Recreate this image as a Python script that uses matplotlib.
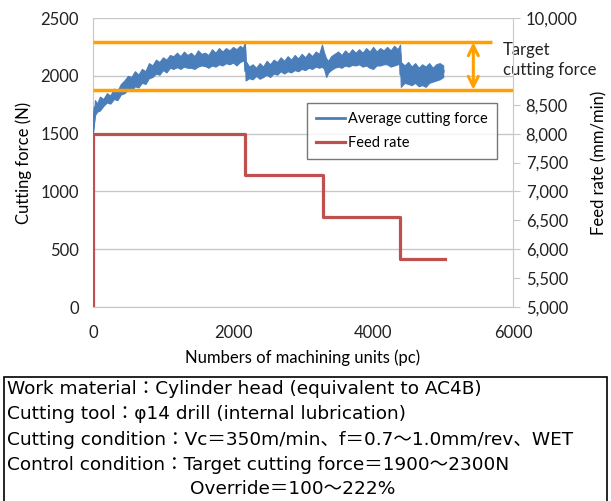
import matplotlib.pyplot as plt
from matplotlib.patches import Rectangle
from matplotlib.ticker import FuncFormatter

# machining units (pc) and cutting force envelope (N)
units = [0, 30, 60, 100, 150, 200, 250, 300, 350, 400, 450, 500, 550, 600, 650,
         700, 750, 800, 850, 900, 950, 1000, 1050, 1100, 1150, 1200, 1250, 1300,
         1350, 1400, 1450, 1500, 1550, 1600, 1650, 1700, 1750, 1800, 1850, 1900,
         1950, 2000, 2050, 2100, 2140, 2170, 2180, 2230, 2280, 2330, 2380, 2430,
         2480, 2530, 2580, 2630, 2680, 2730, 2780, 2830, 2880, 2930, 2980, 3030,
         3080, 3130, 3180, 3230, 3270, 3300, 3330, 3360, 3400, 3450, 3500, 3550,
         3600, 3650, 3700, 3750, 3800, 3850, 3900, 3950, 4000, 4050, 4100, 4150,
         4200, 4250, 4300, 4350, 4385, 4395, 4450, 4500, 4550, 4600, 4650, 4700,
         4750, 4800, 4850, 4900, 4950, 5000]
force_top = [1560, 1790, 1760, 1820, 1800, 1850, 1830, 1890, 1870, 1930, 1960,
             2000, 1990, 2040, 2010, 2060, 2040, 2110, 2090, 2140, 2120, 2160,
             2140, 2180, 2170, 2200, 2170, 2210, 2180, 2200, 2170, 2220, 2190,
             2200, 2180, 2230, 2200, 2240, 2210, 2240, 2220, 2250, 2230, 2260,
             2240, 2290, 2130, 2080, 2100, 2070, 2110, 2080, 2130, 2100, 2140,
             2120, 2160, 2130, 2170, 2140, 2180, 2150, 2190, 2160, 2200, 2170,
             2210, 2190, 2270, 2200, 2150, 2130, 2170, 2190, 2210, 2180, 2220,
             2190, 2230, 2200, 2230, 2200, 2240, 2210, 2250, 2210, 2240, 2220,
             2250, 2220, 2260, 2230, 2270, 2120, 2090, 2120, 2080, 2110, 2070,
             2100, 2080, 2110, 2070, 2100, 2110, 2090]
force_low = [1500, 1660, 1690, 1700, 1740, 1770, 1760, 1800, 1790, 1840, 1850,
             1880, 1870, 1910, 1900, 1940, 1930, 1980, 1990, 2020, 2010, 2050,
             2030, 2070, 2060, 2075, 2060, 2080, 2070, 2070, 2060, 2080, 2090,
             2085, 2070, 2090, 2080, 2100, 2090, 2110, 2100, 2115, 2090, 2120,
             2130, 2150, 1960, 1980, 1970, 2000, 1975, 1990, 2010, 1990, 2020,
             2010, 2040, 2020, 2040, 2030, 2050, 2040, 2060, 2050, 2070, 2060,
             2080, 2070, 2080, 2060, 1990, 2030, 2050, 2070, 2080, 2070, 2090,
             2080, 2095, 2090, 2100, 2080, 2090, 2070, 2060, 2090, 2090, 2100,
             2100, 2080, 2090, 2100, 2110, 1905, 1940, 1930, 1920, 1940, 1910,
             1920, 1905, 1940, 1950, 1960, 1970, 1990]

# feed rate (mm/min)
feed_units = [0, 0, 2176, 2176, 3290, 3290, 4390, 4390, 5020]
feed_rate = [5000, 8000, 8000, 7280, 7280, 6560, 6560, 5830, 5830]

target_upper = 2290
target_lower = 1880
target_upper_end = 5700
target_lower_end = 6000
arrow_x = 5430

blue = '#4a7ebb'
red = '#c0504d'
orange = '#ffa000'

plt.rcParams['font.family'] = ['Lato', 'DejaVu Sans']

fig = plt.figure(figsize=(6.11, 5.01), dpi=100)
ax = fig.add_axes([0.152, 0.387, 0.688, 0.577])

force_mid = [(a + b) / 2 for a, b in zip(force_top, force_low)]
ax.fill_between(units, force_low, force_top, color=blue, lw=0.8, zorder=3)
line_force, = ax.plot(units, force_mid, color=blue, lw=2, zorder=3,
                      label='Average cutting force')

ax.plot([0, target_upper_end], [target_upper, target_upper], color=orange, lw=2.5,
        zorder=5, clip_on=False, solid_capstyle='butt')
ax.plot([0, target_lower_end], [target_lower, target_lower], color=orange, lw=2.5,
        zorder=5, clip_on=False, solid_capstyle='butt')
ax.annotate('', xy=(arrow_x, target_upper), xytext=(arrow_x, target_lower),
            arrowprops=dict(arrowstyle='<->', color=orange, lw=2.2,
                            mutation_scale=18, shrinkA=0, shrinkB=0), zorder=6)
ax.text(0.976, 0.855, 'Target\ncutting force', transform=ax.transAxes,
        fontsize=12, ha='left', va='center', linespacing=1.25, color='#222222')

ax.set_xlim(0, 6000)
ax.set_ylim(0, 2500)
ax.set_xticks([0, 2000, 4000, 6000])
ax.set_yticks(range(0, 2501, 500))
ax.grid(axis='y', color='#c8c8c8', lw=1)
ax.set_axisbelow(True)
for s in ['top', 'right']:
    ax.spines[s].set_visible(False)
ax.spines['left'].set_color('#c8c8c8')
ax.spines['bottom'].set_color('#c8c8c8')
ax.tick_params(axis='y', length=0, labelsize=12, pad=10, colors='#222222')
ax.tick_params(axis='x', length=0, labelsize=12, pad=13, colors='#222222')
ax.set_xlabel('Numbers of machining units (pc)', fontsize=12, labelpad=6)
ax.set_ylabel('Cutting force (N)', fontsize=12, labelpad=6)

ax2 = ax.twinx()
line_feed, = ax2.plot(feed_units, feed_rate, color=red, lw=2.3, label='Feed rate')
ax2.set_ylim(5000, 10000)
ax2.set_yticks([5000, 5500, 6000, 6500, 7000, 7500, 8000, 8500, 10000])
ax2.yaxis.set_major_formatter(FuncFormatter(lambda v, p: f'{int(v):,}'))
for s in ['top', 'left', 'bottom']:
    ax2.spines[s].set_visible(False)
ax2.spines['right'].set_color('#c8c8c8')
ax2.tick_params(axis='y', length=5, color='#c8c8c8', labelsize=12, pad=4,
                labelcolor='#222222')
ax2.set_ylabel('Feed rate (mm/min)', fontsize=12, labelpad=10)

leg = ax2.legend([line_force, line_feed], ['Average cutting force', 'Feed rate'],
                 loc='upper left', bbox_to_anchor=(0.51, 0.706), fontsize=10.5,
                 frameon=True, fancybox=False, handlelength=2, handletextpad=0.2,
                 borderpad=0.6, labelspacing=0.7, borderaxespad=0)
leg.get_frame().set_edgecolor('#555555')
leg.get_frame().set_linewidth(1)

# condition box
fig.patches.append(Rectangle((4 / 611, -0.05), 603 / 611, 1 - 377 / 501 + 0.05,
                             transform=fig.transFigure, fill=False,
                             edgecolor='black', lw=1.2))
cond_lines = ['Work material：Cylinder head (equivalent to AC4B)',
              'Cutting tool：φ14 drill (internal lubrication)',
              'Cutting condition：Vc＝350m/min、f＝0.7～1.0mm/rev、WET',
              'Control condition：Target cutting force＝1900～2300N']
ys = [389, 414, 440, 465]
for t, y in zip(cond_lines, ys):
    fig.text(7 / 611, 1 - y / 501, t, fontsize=13.3, va='center', ha='left',
             family=['DejaVu Sans', 'Noto Sans CJK JP'])
fig.text(190 / 611, 1 - 489 / 501, 'Override＝100～222%', fontsize=13.3,
         va='center', ha='left', family=['DejaVu Sans', 'Noto Sans CJK JP'])

fig.savefig('out.png', dpi=100)
